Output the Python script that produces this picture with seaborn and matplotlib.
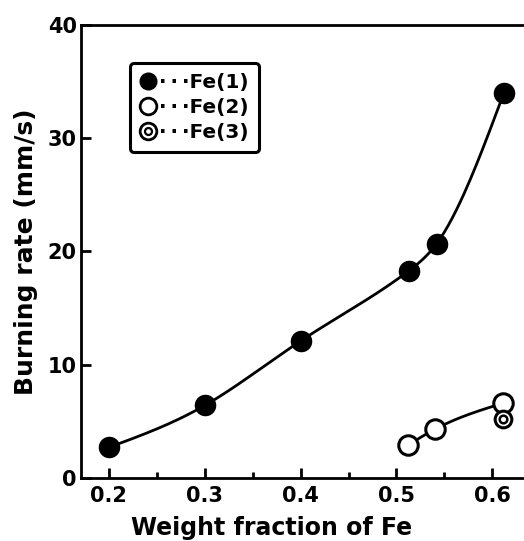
import numpy as np
import pandas as pd
import matplotlib
matplotlib.use("Agg")
import matplotlib.pyplot as plt
import seaborn as sns
from matplotlib.lines import Line2D
from matplotlib.ticker import MultipleLocator

# Data
fe1_x = [0.200, 0.300, 0.400, 0.513, 0.542, 0.612]
fe1_y = [2.7, 6.4, 12.1, 18.3, 20.7, 34.0]
fe2_x = [0.512, 0.540, 0.611]
fe2_y = [2.9, 4.3, 6.6]
fe3_x = [0.611]
fe3_y = [5.2]

dots = "\u00b7\u2009\u00b7\u2009\u00b7"
labels = [dots + "Fe(1)", dots + "Fe(2)", dots + "Fe(3)"]


def natural_spline(x, y, n=200):
    # natural cubic spline through the points (no scipy needed)
    x = np.asarray(x, float)
    y = np.asarray(y, float)
    k = len(x)
    h = np.diff(x)
    A = np.zeros((k, k))
    b = np.zeros(k)
    A[0, 0] = A[-1, -1] = 1
    for i in range(1, k - 1):
        A[i, i - 1] = h[i - 1]
        A[i, i] = 2 * (h[i - 1] + h[i])
        A[i, i + 1] = h[i]
        b[i] = 6 * ((y[i + 1] - y[i]) / h[i] - (y[i] - y[i - 1]) / h[i - 1])
    m = np.linalg.solve(A, b)
    xs = np.linspace(x[0], x[-1], n)
    idx = np.clip(np.searchsorted(x, xs) - 1, 0, k - 2)
    t0 = x[idx + 1] - xs
    t1 = xs - x[idx]
    hi = h[idx]
    ys = (m[idx] * t0**3 + m[idx + 1] * t1**3) / (6 * hi) \
        + (y[idx] / hi - m[idx] * hi / 6) * t0 \
        + (y[idx + 1] / hi - m[idx + 1] * hi / 6) * t1
    return xs, ys


sns.set_style("white")
plt.rcParams["font.family"] = ["DejaVu Sans"]
plt.rcParams["font.weight"] = "bold"
for key in ["text.color", "axes.labelcolor", "xtick.color", "ytick.color"]:
    plt.rcParams[key] = "black"

fig = plt.figure(figsize=(5.24, 5.41), dpi=100)
ax = fig.add_axes([0.1546, 0.1165, 0.8454, 0.8373])

# smooth curves
sx, sy = natural_spline(fe1_x, fe1_y)
sns.lineplot(x=sx, y=sy, ax=ax, color="black", lw=2, sort=False)
sx2, sy2 = natural_spline(fe2_x, fe2_y)
sns.lineplot(x=sx2, y=sy2, ax=ax, color="black", lw=2, sort=False)

# markers
ax.plot(fe1_x, fe1_y, "o", ms=14.5, mfc="black", mec="black", zorder=5)
ax.plot(fe2_x, fe2_y, "o", ms=14, mfc="white", mec="black", mew=2.2, zorder=5)
ax.plot(fe3_x, fe3_y, "o", ms=12, mfc="white", mec="black", mew=2.2, zorder=6)
ax.plot(fe3_x, fe3_y, "o", ms=5.5, mfc="white", mec="black", mew=1.8, zorder=7)

ax.set_xlim(0.171, 0.633)
ax.set_ylim(0, 40)
ax.xaxis.set_minor_locator(MultipleLocator(0.05))
ax.tick_params(axis="both", which="major", direction="in", length=7, width=2,
               labelsize=15, pad=6)
ax.tick_params(axis="x", which="minor", direction="in", length=4, width=2, bottom=True)
ax.tick_params(axis="y", left=True, pad=3)
ax.tick_params(axis="x", bottom=True)
ax.set_xticks([0.2, 0.3, 0.4, 0.5, 0.6])
ax.set_xticklabels(["0.2", "0.3", "0.4", "0.5", "0.6"])
ax.set_yticks([0, 10, 20, 30, 40])
ax.set_yticklabels(["0", "10", "20", "30", "40"])

for side in ["left", "bottom", "top"]:
    ax.spines[side].set_linewidth(2)
    ax.spines[side].set_color("black")
ax.spines["right"].set_visible(False)

ax.set_xlabel("Weight fraction of Fe", fontsize=17, fontweight="bold", labelpad=1)
ax.xaxis.set_label_coords(0.431, -0.083)
ax.set_ylabel("Burning rate (mm/s)", fontsize=18, fontweight="bold", labelpad=7)

handles = [
    Line2D([], [], ls="", marker="o", ms=12, mfc="black", mec="black"),
    Line2D([], [], ls="", marker="o", ms=12, mfc="white", mec="black", mew=2),
    (Line2D([], [], ls="", marker="o", ms=12, mfc="white", mec="black", mew=2),
     Line2D([], [], ls="", marker="o", ms=5, mfc="white", mec="black", mew=1.6)),
]
leg = ax.legend(handles, labels, loc="upper left", bbox_to_anchor=(0.11, 0.916),
                borderaxespad=0, handlelength=0.8, handletextpad=0.15,
                labelspacing=0.3, borderpad=0.5, fancybox=True,
                frameon=True, prop={"size": 14.5, "weight": "bold"})
leg.get_frame().set_edgecolor("black")
leg.get_frame().set_linewidth(2.2)
leg.get_frame().set_alpha(1)

fig.savefig("out.png", dpi=100)
